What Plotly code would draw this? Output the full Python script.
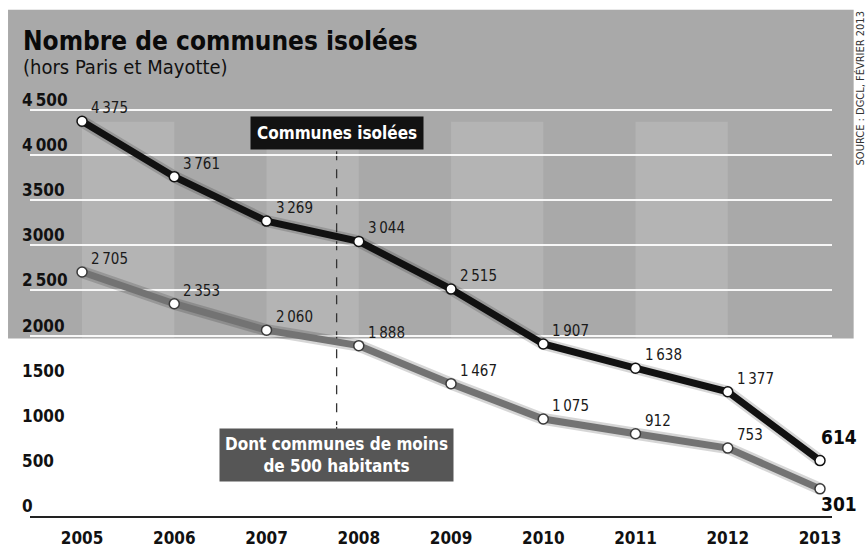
import plotly.graph_objects as go

years = [2005, 2006, 2007, 2008, 2009, 2010, 2011, 2012, 2013]
isolees = [4375, 3761, 3269, 3044, 2515, 1907, 1638, 1377, 614]
moins500 = [2705, 2353, 2060, 1888, 1467, 1075, 912, 753, 301]
isolees_txt = ["4\u2009375", "3\u2009761", "3\u2009269", "3\u2009044", "2\u2009515", "1\u2009907", "1\u2009638", "1\u2009377", "614"]
moins500_txt = ["2\u2009705", "2\u2009353", "2\u2009060", "1\u2009888", "1\u2009467", "1\u2009075", "912", "753", "301"]
ytick_vals = [0, 500, 1000, 1500, 2000, 2500, 3000, 3500, 4000, 4500]
ytick_txt = ["0", "500", "1000", "1500", "2000", "2\u2009500", "3000", "3500", "4\u2009000", "4\u2009500"]
xtick_txt = [str(y) for y in years]

FONT = "Liberation Sans Narrow, DejaVu Sans Condensed, Roboto Condensed, Arial Narrow, sans-serif"

fig = go.Figure()

# shadows
for vals in (isolees, moins500):
    fig.add_trace(go.Scatter(x=years, y=vals, mode="lines",
                             line=dict(color="rgba(0,0,0,0.16)", width=12),
                             hoverinfo="skip", showlegend=False))

fig.add_trace(go.Scatter(x=years, y=moins500, mode="lines+markers",
                         line=dict(color="#737373", width=7),
                         marker=dict(size=10, color="white", line=dict(color="#3a3a3a", width=1.5)),
                         showlegend=False, cliponaxis=False))
fig.add_trace(go.Scatter(x=years, y=isolees, mode="lines+markers",
                         line=dict(color="#111111", width=7),
                         marker=dict(size=10, color="white", line=dict(color="#111111", width=1.5)),
                         showlegend=False, cliponaxis=False))

shapes = []
# grey background block
shapes.append(dict(type="rect", xref="paper", yref="paper", x0=-0.0274, x1=1.027, y0=0.428, y1=1.22,
                   fillcolor="#a9a9a9", line=dict(width=0), layer="below"))
# lighter bands
for a in (2005, 2007, 2009, 2011):
    shapes.append(dict(type="rect", xref="x", yref="y", x0=a, x1=a + 1, y0=1975, y1=4370,
                       fillcolor="#b4b4b4", line=dict(width=0), layer="below"))
# dashed connector
shapes.append(dict(type="line", xref="x", yref="y", x0=2007.76, x1=2007.76, y0=950, y1=4070,
                   line=dict(color="#333333", width=1.3, dash="dash"), layer="below"))

ann = []
# title & subtitle
ann.append(dict(text="<b>Nombre de communes isolées</b>", xref="paper", yref="paper",
                x=-0.011, y=1.145, xanchor="left", yanchor="middle", showarrow=False,
                font=dict(family=FONT, size=26, color="#0a0a0a")))
ann.append(dict(text="(hors Paris et Mayotte)", xref="paper", yref="paper",
                x=-0.011, y=1.081, xanchor="left", yanchor="middle", showarrow=False,
                font=dict(family=FONT, size=20, color="#111")))
# source
ann.append(dict(text="SOURCE : DGCL, FÉVRIER 2013", xref="paper", yref="paper",
                x=1.036, y=1.03, xanchor="center", yanchor="middle", textangle=-90, showarrow=False,
                font=dict(family=FONT, size=11, color="#333")))
# y tick labels
for v, t in zip(ytick_vals, ytick_txt):
    ann.append(dict(text="<b>%s</b>" % t, xref="paper", yref="y", x=-0.0125, y=v,
                    xanchor="left", yanchor="middle", yshift=10, showarrow=False,
                    font=dict(family=FONT, size=17, color="#111")))
# data labels
for xs, vals, txts in ((years, isolees, isolees_txt), (years, moins500, moins500_txt)):
    for i, (x, v, t) in enumerate(zip(xs, vals, txts)):
        if i == len(xs) - 1:
            continue
        ann.append(dict(text=t, x=x, y=v, xanchor="left", yanchor="middle", xshift=7, yshift=13,
                        showarrow=False, font=dict(family=FONT, size=15, color="#1a1a1a")))
ann.append(dict(text="<b>%s</b>" % isolees_txt[-1], x=years[-1], y=isolees[-1], xanchor="left",
                yanchor="middle", xshift=-1, yshift=24, showarrow=False,
                font=dict(family=FONT, size=19, color="#0a0a0a")))
ann.append(dict(text="<b>%s</b>" % moins500_txt[-1], x=years[-1], y=moins500[-1], xanchor="left",
                yanchor="middle", xshift=-1, yshift=-15, showarrow=False,
                font=dict(family=FONT, size=19, color="#0a0a0a")))
# series boxes
ann.append(dict(text="<b>Communes isolées</b>", x=2007.76, y=4246, xanchor="center", yanchor="middle",
                showarrow=False, bgcolor="#121212", borderpad=6,
                font=dict(family=FONT, size=17, color="white")))
ann.append(dict(text="<b>Dont communes de moins<br>de 500 habitants</b>", x=2007.76, y=676,
                xanchor="center", yanchor="middle", showarrow=False, bgcolor="#565656", borderpad=5,
                font=dict(family=FONT, size=17, color="white")))

fig.update_layout(
    width=868, height=548,
    margin=dict(l=30, r=36, t=101, b=32, autoexpand=False),
    paper_bgcolor="white", plot_bgcolor="rgba(0,0,0,0)",
    shapes=shapes, annotations=ann, showlegend=False,
    xaxis=dict(range=[2004.436, 2013.13], tickvals=years, ticktext=["<b>%s</b>" % t for t in xtick_txt],
               showgrid=False, zeroline=False, showline=True, linecolor="#222", linewidth=1.5,
               ticks="", ticklabelstandoff=6, tickfont=dict(family=FONT, size=17, color="#111"),
               automargin=False, fixedrange=True),
    yaxis=dict(range=[0, 4600], tickvals=ytick_vals, showticklabels=False, showgrid=True,
               gridcolor="rgba(255,255,255,0.9)", gridwidth=1.5, zeroline=False, showline=False,
               automargin=False, fixedrange=True),
)

fig.write_html("out.html")
